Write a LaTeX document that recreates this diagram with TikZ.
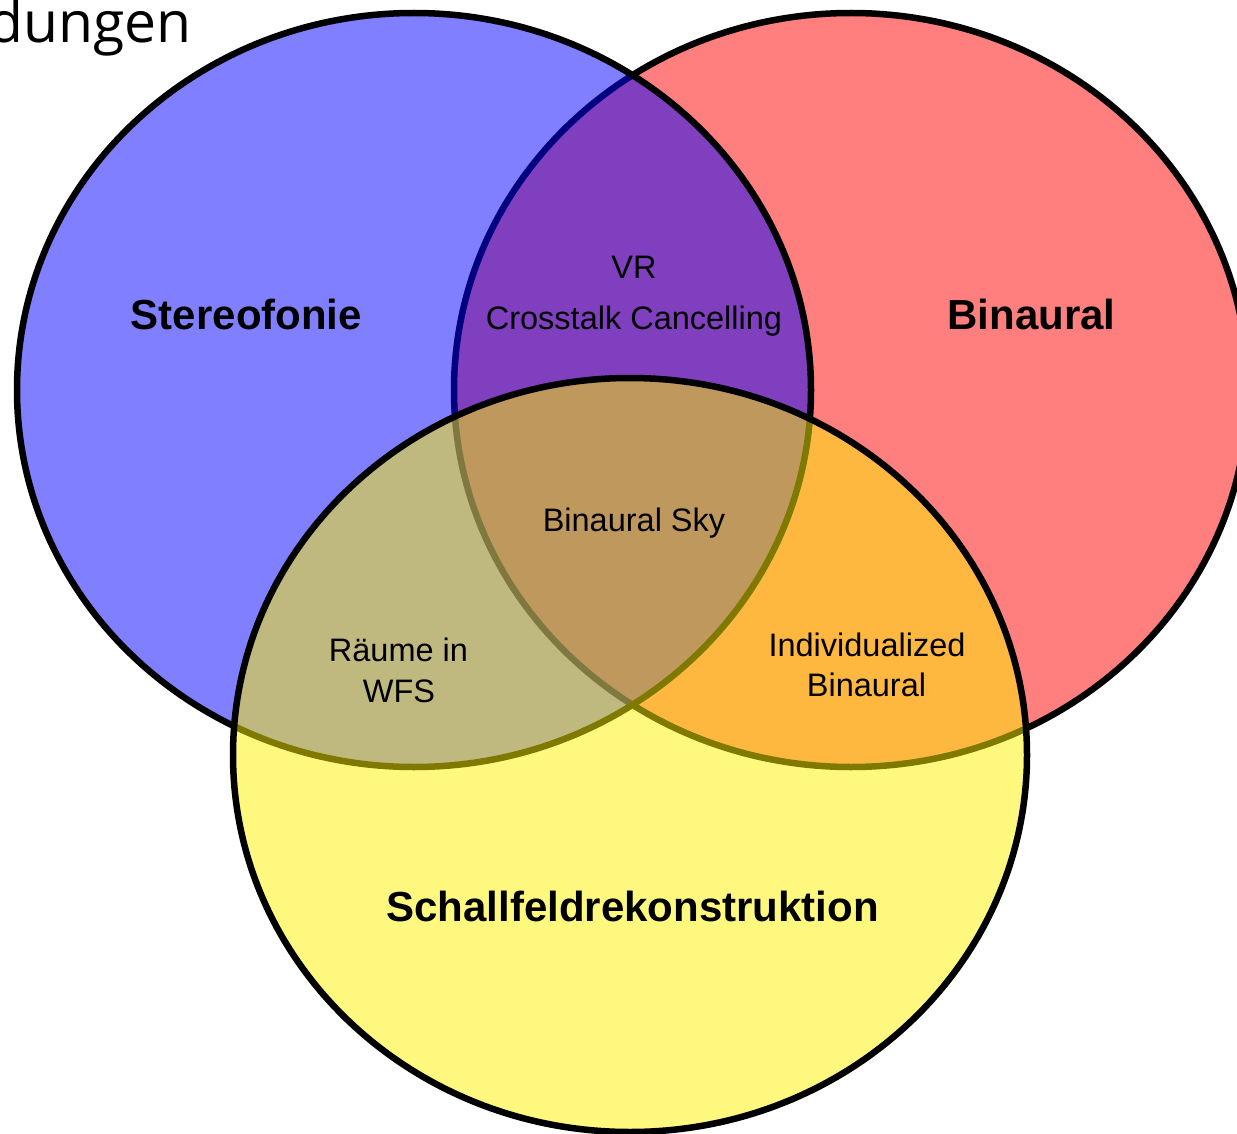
\documentclass[tikz,border=0pt]{standalone}
\usepackage{fontspec}
\setmainfont{Liberation Sans}
\newfontfamily\titlefont{Open Sans}
\usetikzlibrary{shapes.geometric}

\begin{document}
\begin{tikzpicture}[x=1pt, y=-1pt,
  venn/.style={ellipse, draw=black, line width=6.5pt, fill opacity=0.5,
    draw opacity=1, inner sep=0pt, outer sep=0pt,
    minimum width=794pt, minimum height=754pt},
  setlabel/.style={anchor=base, inner sep=0pt,
    font=\fontsize{42}{50}\selectfont\bfseries},
  partlabel/.style={anchor=base, inner sep=0pt,
    font=\fontsize{32.5}{39}\selectfont},
]
\useasboundingbox (0,0) rectangle (1237,1134);

% heading running past the page edge
\node[anchor=base east, inner sep=0pt, font=\fontsize{57}{66}\titlefont]
  (heading) at (192,43) {dungen};

% the three sets (order fixes how the outlines are tinted)
\node[venn, fill=red]    (binaural) at (851,390) {};
\node[venn, fill=blue]   (stereo)   at (414,390) {};
\node[venn, fill=yellow] (sfr)      at (630,755) {};

% set names
\node[setlabel] (lstereo)   at (246.5,329) {Stereofonie};
\node[setlabel] (lbinaural) at (1031.5,329) {Binaural};
\node[setlabel] (lsfr)      at (632.5,921) {Schallfeldrekonstruktion};

% overlaps
\node[partlabel] (vr)    at (634,278) {VR};
\node[partlabel] (ctc)   at (634,329) {Crosstalk Cancelling};
\node[partlabel] (sky)   at (634,531) {Binaural Sky};
\node[partlabel] (raum1) at (398.5,661) {Räume in};
\node[partlabel] (raum2) at (399,702) {WFS};
\node[partlabel] (ind1)  at (867,656.5) {Individualized};
\node[partlabel] (ind2)  at (866.5,696) {Binaural};
\end{tikzpicture}
\end{document}
